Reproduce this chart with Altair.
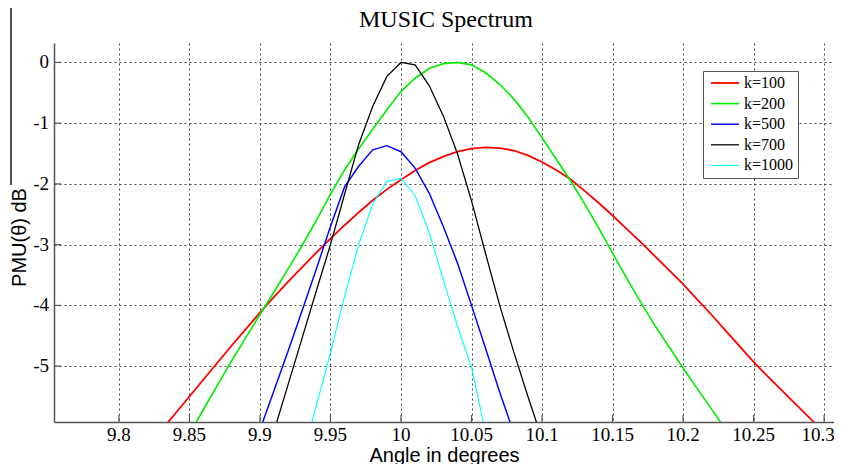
import altair as alt
import pandas as pd

title_text = "MUSIC Spectrum"
x_title = "Angle in degrees"
y_title = "PMU(θ) dB"

series_names = ["k=100", "k=200", "k=500", "k=700", "k=1000"]
series_colors = ["#ff0000", "#00ee00", "#0000ff", "#000000", "#00ffff"]
series_widths = [1.8, 1.1, 1.8, 1.5, 1.8]

red_x = [9.83, 9.84, 9.85, 9.86, 9.87, 9.88, 9.89, 9.90, 9.91, 9.92, 9.93, 9.94, 9.95, 9.96, 9.97,
         9.98, 9.99, 10.00, 10.01, 10.02, 10.03, 10.04, 10.05, 10.06, 10.07, 10.08, 10.09, 10.10,
         10.11, 10.12, 10.13, 10.14, 10.15, 10.16, 10.17, 10.18, 10.19, 10.20, 10.21, 10.22, 10.23,
         10.24, 10.25, 10.26, 10.27, 10.28, 10.29, 10.30]
red_y = [-6.06, -5.78, -5.50, -5.22, -4.94, -4.66, -4.39, -4.12, -3.86, -3.61, -3.37, -3.13, -2.90,
         -2.68, -2.47, -2.27, -2.09, -1.93, -1.78, -1.65, -1.55, -1.47, -1.42, -1.40, -1.41, -1.45,
         -1.53, -1.64, -1.77, -1.92, -2.11, -2.31, -2.52, -2.74, -2.96, -3.19, -3.42, -3.65, -3.90,
         -4.15, -4.41, -4.67, -4.93, -5.17, -5.40, -5.63, -5.86, -6.09]

green_x = [9.85, 9.86, 9.87, 9.88, 9.89, 9.90, 9.91, 9.92, 9.93, 9.94, 9.95, 9.96, 9.97, 9.98, 9.99,
           10.00, 10.01, 10.02, 10.03, 10.04, 10.05, 10.06, 10.07, 10.08, 10.09, 10.10, 10.11, 10.12,
           10.13, 10.14, 10.15, 10.16, 10.17, 10.18, 10.19, 10.20, 10.21, 10.22, 10.23]
green_y = [-6.12, -5.71, -5.31, -4.91, -4.53, -4.15, -3.78, -3.40, -3.01, -2.60, -2.17, -1.77, -1.42,
           -1.10, -0.78, -0.48, -0.26, -0.10, -0.02, 0.00, -0.04, -0.17, -0.36, -0.60, -0.90, -1.24,
           -1.59, -1.94, -2.32, -2.72, -3.14, -3.55, -3.95, -4.33, -4.68, -5.03, -5.37, -5.70, -6.04]

blue_x = [9.90, 9.91, 9.92, 9.93, 9.94, 9.95, 9.96, 9.97, 9.98, 9.99, 10.00, 10.01, 10.02, 10.03,
          10.04, 10.05, 10.06, 10.07, 10.08]
blue_y = [-6.05, -5.40, -4.75, -4.08, -3.40, -2.70, -2.05, -1.71, -1.44, -1.37, -1.47, -1.74, -2.15,
          -2.70, -3.30, -4.00, -4.71, -5.43, -6.10]

black_x = [9.91, 9.92, 9.93, 9.94, 9.95, 9.96, 9.97, 9.98, 9.99, 10.00, 10.01, 10.02, 10.03, 10.04,
           10.05, 10.06, 10.07, 10.08, 10.09, 10.10]
black_y = [-6.07, -5.30, -4.53, -3.76, -3.00, -2.17, -1.35, -0.72, -0.23, 0.00, -0.04, -0.38, -0.88,
           -1.50, -2.28, -3.15, -4.00, -4.77, -5.50, -6.20]

cyan_x = [9.93, 9.94, 9.95, 9.96, 9.97, 9.98, 9.99, 10.00, 10.01, 10.02, 10.03, 10.04, 10.05, 10.06]
cyan_y = [-6.50, -5.65, -4.78, -3.85, -3.00, -2.33, -1.96, -1.91, -2.19, -2.80, -3.58, -4.34, -5.02,
          -6.10]

x_ticks = [9.8, 9.85, 9.9, 9.95, 10.0, 10.05, 10.1, 10.15, 10.2, 10.25, 10.3]
x_tick_labels = ["9.8", "9.85", "9.9", "9.95", "10", "10.05", "10.1", "10.15", "10.2", "10.25", "10.3"]
y_ticks = [0, -1, -2, -3, -4, -5]
y_tick_labels = ["0", "-1", "-2", "-3", "-4", "-5"]
x_domain = [9.754, 10.307]
y_domain = [-5.92, 0.32]

rows = []
for name, xs, ys in zip(series_names,
                        [red_x, green_x, blue_x, black_x, cyan_x],
                        [red_y, green_y, blue_y, black_y, cyan_y]):
    for i, (a, b) in enumerate(zip(xs, ys)):
        rows.append({"series": name, "angle": a, "p": b, "order": i})
df = pd.DataFrame(rows)

serif = "Liberation Serif"
sans = "Liberation Sans"

x_scale = alt.Scale(domain=x_domain, nice=False, zero=False)
y_scale = alt.Scale(domain=y_domain, nice=False, zero=False)

x_axis = alt.Axis(values=x_ticks, labels=False, title=x_title,
                  titleFont=sans, titleFontSize=20, titleFontWeight="normal",
                  titleColor="#000", titleBaseline="middle", titleY=33,
                  ticks=False, domainColor="#555", domainWidth=1.5,
                  grid=True, gridColor="#444", gridDash=[2, 3], gridWidth=1,
                  gridOpacity=1)
y_axis = alt.Axis(values=y_ticks, labels=False, title=y_title,
                  titleFont=sans, titleFontSize=20, titleFontWeight="normal",
                  titleColor="#000", titleBaseline="middle", titleX=-35, titleY=194,
                  titleAngle=270,
                  ticks=False, domainColor="#555", domainWidth=1.5,
                  grid=True, gridColor="#444", gridDash=[2, 3], gridWidth=1,
                  gridOpacity=1)

lines = alt.Chart(df).mark_line(clip=True).encode(
    x=alt.X("angle:Q", scale=x_scale, axis=x_axis),
    y=alt.Y("p:Q", scale=y_scale, axis=y_axis),
    color=alt.Color("series:N", sort=series_names,
                    scale=alt.Scale(domain=series_names, range=series_colors),
                    legend=alt.Legend(title=None, orient="none", legendX=649, legendY=28,
                                      symbolType="M-2,0H2", symbolSize=196,
                                      symbolStrokeWidth=1.5,
                                      labelFont=serif, labelFontSize=16, labelColor="#000",
                                      labelOffset=11, rowPadding=4.6, padding=4,
                                      strokeColor="#555", fillColor="#ffffff",
                                      symbolOffset=10)),
    strokeWidth=alt.StrokeWidth("series:N",
                                scale=alt.Scale(domain=series_names, range=series_widths),
                                legend=None),
    order="order:Q",
    detail="series:N",
)

tick_df = pd.DataFrame({"t": x_ticks, "lab": x_tick_labels})
ticks = alt.Chart(tick_df).mark_rule(color="#555", strokeWidth=1.2).encode(
    x=alt.X("t:Q", scale=x_scale, axis=x_axis),
    y=alt.value(379),
    y2=alt.value(372),
)

xlabels = alt.Chart(tick_df).transform_filter("datum.t < 10.29").mark_text(
    font=serif, fontSize=19, color="#000", align="center", baseline="alphabetic", clip=False
).encode(
    x=alt.X("t:Q", scale=x_scale, axis=x_axis),
    y=alt.value(398),
    text="lab:N",
)
xlabel_last = alt.Chart(tick_df).transform_filter("datum.t > 10.29").mark_text(
    font=serif, fontSize=19, color="#000", align="center", baseline="alphabetic", clip=False,
    dx=-6
).encode(
    x=alt.X("t:Q", scale=x_scale, axis=x_axis),
    y=alt.value(398),
    text="lab:N",
)

ytick_df = pd.DataFrame({"v": y_ticks, "lab": y_tick_labels})
yticks = alt.Chart(ytick_df).mark_rule(color="#555", strokeWidth=1.2).encode(
    y=alt.Y("v:Q", scale=y_scale, axis=y_axis),
    x=alt.value(0),
    x2=alt.value(7),
)
ylabels = alt.Chart(ytick_df).mark_text(
    font=serif, fontSize=19, color="#000", align="right", baseline="middle", clip=False
).encode(
    y=alt.Y("v:Q", scale=y_scale, axis=y_axis),
    x=alt.value(-5),
    text="lab:N",
)

edge = alt.Chart(tick_df).mark_rule(color="#555", strokeWidth=1.5, clip=False).encode(
    x=alt.value(-43),
    y=alt.value(-43),
    y2=alt.value(142),
)

title_df = pd.DataFrame({"t": [title_text]})
title = alt.Chart(title_df).mark_text(font=serif, fontSize=24, color="#000", align="center",
                                      baseline="alphabetic", clip=False).encode(
    text="t:N",
    x=alt.value(392),
    y=alt.value(-16),
)

chart = alt.layer(lines, ticks, yticks, xlabels, xlabel_last, ylabels, edge, title).properties(
    width=780,
    height=379,
    background="#ffffff",
    autosize=alt.AutoSizeParams(type="none"),
    padding={"left": 46, "top": 35, "right": 0, "bottom": 42},
).configure_view(stroke=None)

chart.save("out.html", embed_options={"renderer": "svg", "actions": False})
